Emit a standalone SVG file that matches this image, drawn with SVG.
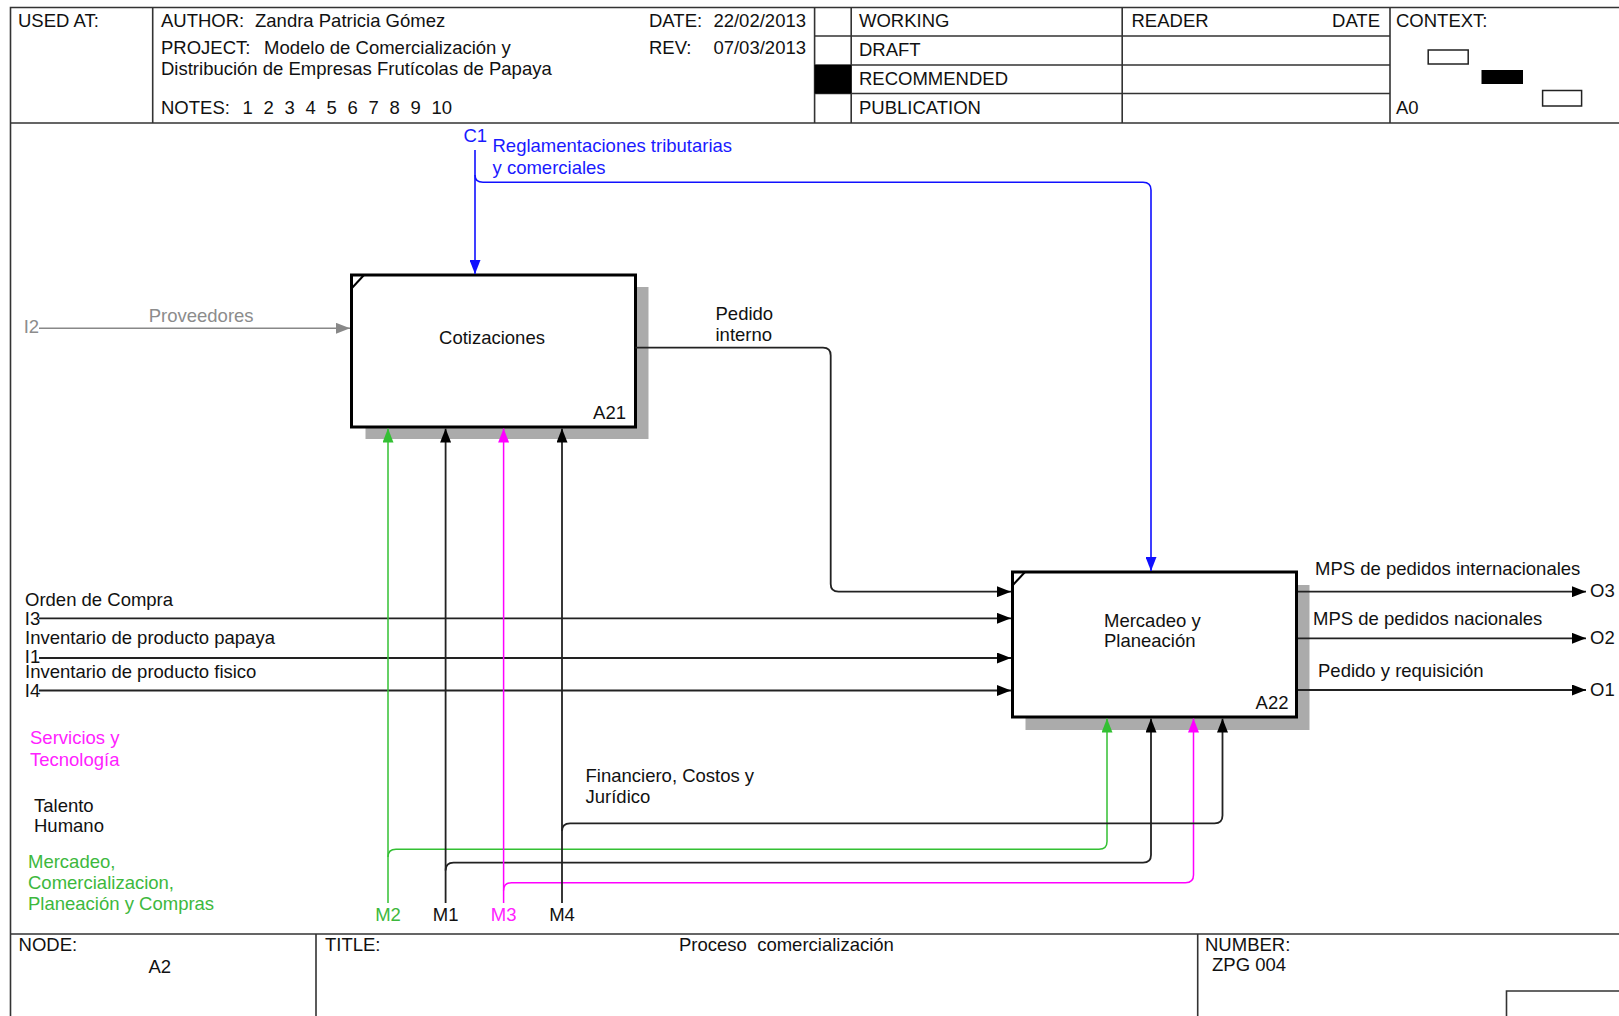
<svg xmlns="http://www.w3.org/2000/svg" width="1619" height="1016" viewBox="0 0 1619 1016">
<style>
text{font-family:"Liberation Sans",Arial,sans-serif;font-size:18.5px;fill:#111}
.frame{stroke:#333;stroke-width:1.6;fill:none}
.box{fill:#fff;stroke:#000;stroke-width:3}
.shadow{fill:#ababab}
.conn{fill:none;stroke:#222;stroke-width:1.8}
.blue{fill:none;stroke:#1010ff;stroke-width:1.6}
.green{fill:none;stroke:#33c033;stroke-width:1.5}
.mag{fill:none;stroke:#ff00ff;stroke-width:1.5}
.gray{fill:none;stroke:#888;stroke-width:1.6}
.tb{fill:#1a1aff}
.tg{fill:#3db83d}
.tm{fill:#ff22ff}
.tgr{fill:#8c8c8c}
.mid{text-anchor:middle}
.end{text-anchor:end}
.pre{white-space:pre}
</style>
<defs>
<marker id="ab" markerUnits="userSpaceOnUse" markerWidth="14" markerHeight="11" refX="14" refY="5.5" orient="auto"><path d="M0,0 L14,5.5 L0,11 z" fill="#000"/></marker>
<marker id="abl" markerUnits="userSpaceOnUse" markerWidth="14" markerHeight="11" refX="14" refY="5.5" orient="auto"><path d="M0,0 L14,5.5 L0,11 z" fill="#1010ff"/></marker>
<marker id="agr" markerUnits="userSpaceOnUse" markerWidth="14" markerHeight="11" refX="14" refY="5.5" orient="auto"><path d="M0,0 L14,5.5 L0,11 z" fill="#33c033"/></marker>
<marker id="am" markerUnits="userSpaceOnUse" markerWidth="14" markerHeight="11" refX="14" refY="5.5" orient="auto"><path d="M0,0 L14,5.5 L0,11 z" fill="#ff00ff"/></marker>
<marker id="agy" markerUnits="userSpaceOnUse" markerWidth="14" markerHeight="11" refX="14" refY="5.5" orient="auto"><path d="M0,0 L14,5.5 L0,11 z" fill="#888"/></marker>
</defs>
<rect width="1619" height="1016" fill="#fff"/>

<g id="frame">
<path class="frame" d="M10.5,1016 V7.5 H1619 M10.5,123 H1619 M10.5,934 H1619 M152.7,7.5 V123 M814.6,7.5 V123 M851.2,7.5 V123 M1122.2,7.5 V123 M1390,7.5 V123 M814.6,36 H1390 M814.6,65 H1390 M814.6,93.5 H1390 M316,934 V1016 M1197.7,934 V1016 M1506.5,1016 V991 H1619"/>
<rect x="814.6" y="65" width="36.6" height="28.5" fill="#000"/>
<rect x="1428.2" y="50" width="40" height="14" fill="#fff" stroke="#222" stroke-width="1.5"/>
<rect x="1481.5" y="70" width="41.5" height="14" fill="#000"/>
<rect x="1542.6" y="90.5" width="39" height="15.5" fill="#fff" stroke="#222" stroke-width="1.5"/>
<text x="18" y="27">USED AT:</text>
<text x="161" y="27">AUTHOR:</text>
<text x="255" y="27">Zandra Patricia Gómez</text>
<text x="161" y="54">PROJECT:</text>
<text x="264" y="54">Modelo de Comercialización y</text>
<text x="161" y="74.5">Distribución de Empresas Frutícolas de Papaya</text>
<text x="161" y="114">NOTES:</text>
<text y="114"><tspan x="242.5">1</tspan><tspan x="263.5">2</tspan><tspan x="284.5">3</tspan><tspan x="305.5">4</tspan><tspan x="326.5">5</tspan><tspan x="347.5">6</tspan><tspan x="368.5">7</tspan><tspan x="389.5">8</tspan><tspan x="410.5">9</tspan><tspan x="431.5">10</tspan></text>
<text x="649" y="27">DATE:</text>
<text x="806" y="27" class="end">22/02/2013</text>
<text x="649" y="54">REV:</text>
<text x="806" y="54" class="end">07/03/2013</text>
<text x="859" y="27">WORKING</text>
<text x="859" y="56">DRAFT</text>
<text x="859" y="85">RECOMMENDED</text>
<text x="859" y="114">PUBLICATION</text>
<text x="1131.5" y="27">READER</text>
<text x="1380" y="27" class="end">DATE</text>
<text x="1396" y="27">CONTEXT:</text>
<text x="1396" y="114">A0</text>
<text x="18.6" y="951">NODE:</text>
<text x="148.5" y="972.5">A2</text>
<text x="325" y="951">TITLE:</text>
<text x="679" y="951" class="pre">Proceso  comercialización</text>
<text x="1205" y="951">NUMBER:</text>
<text x="1212" y="970.5">ZPG 004</text>
</g>

<g id="node-A21">
<rect class="shadow" x="365.5" y="287" width="283" height="152"/>
<rect class="box" x="351.5" y="275" width="284" height="152"/>
<path d="M351.5,288.5 L364,275" stroke="#000" stroke-width="2" fill="none"/>
<text x="492" y="344" class="mid">Cotizaciones</text>
<text x="626" y="418.5" class="end">A21</text>
</g>

<g id="node-A22">
<rect class="shadow" x="1025.5" y="585" width="284" height="145"/>
<rect class="box" x="1012.5" y="572" width="284" height="145"/>
<path d="M1012.5,585.5 L1025,572" stroke="#000" stroke-width="2" fill="none"/>
<text x="1104" y="627">Mercadeo y</text>
<text x="1104" y="647">Planeación</text>
<text x="1288.5" y="709" class="end">A22</text>
</g>

<g id="connectors">
<path class="blue" d="M475,150 V274" marker-end="url(#abl)"/>
<path class="blue" d="M475,175 Q475,182.3 483,182.3 H1143 Q1151,182.3 1151,190 V571" marker-end="url(#abl)"/>
<path class="gray" d="M39,328.3 H350" marker-end="url(#agy)"/>
<path class="conn" d="M635.5,347.7 H823 Q830.7,347.7 830.7,355.5 V584 Q830.7,591.7 838.5,591.7 H1011" marker-end="url(#ab)"/>
<path class="conn" d="M39,618.3 H1011" marker-end="url(#ab)"/>
<path class="conn" d="M39,658 H1011" marker-end="url(#ab)"/>
<path class="conn" d="M39,690.5 H1011" marker-end="url(#ab)"/>
<path class="conn" d="M1298,591.7 H1586" marker-end="url(#ab)"/>
<path class="conn" d="M1298,638.3 H1586" marker-end="url(#ab)"/>
<path class="conn" d="M1298,690 H1586" marker-end="url(#ab)"/>
<path class="green" d="M388,903 V428.5" marker-end="url(#agr)"/>
<path class="green" d="M388,857 Q388,849.3 396,849.3 H1099 Q1107,849.3 1107,841.5 V718.5" marker-end="url(#agr)"/>
<path class="conn" d="M445.6,903 V428.5" marker-end="url(#ab)"/>
<path class="conn" d="M445.6,870.5 Q445.6,862.7 453.5,862.7 H1143 Q1151,862.7 1151,855 V718.5" marker-end="url(#ab)"/>
<path class="mag" d="M503.6,903 V428.5" marker-end="url(#am)"/>
<path class="mag" d="M503.6,890.5 Q503.6,882.7 511.5,882.7 H1185.5 Q1193.5,882.7 1193.5,875 V718.5" marker-end="url(#am)"/>
<path class="conn" d="M562,903 V428.5" marker-end="url(#ab)"/>
<path class="conn" d="M562,831 Q562,823.3 570,823.3 H1214.5 Q1222.5,823.3 1222.5,815.5 V718.5" marker-end="url(#ab)"/>
</g>

<g id="labels">
<text x="463.5" y="142" class="tb">C1</text>
<text x="492.5" y="152" class="tb">Reglamentaciones tributarias</text>
<text x="492.5" y="173.5" class="tb">y comerciales</text>
<text x="23.7" y="333" class="tgr">I2</text>
<text x="148.7" y="322" class="tgr">Proveedores</text>
<text x="715.5" y="319.5">Pedido</text>
<text x="715.5" y="341">interno</text>
<text x="25" y="606">Orden de Compra</text>
<text x="24.8" y="625">I3</text>
<text x="25" y="643.5">Inventario de producto papaya</text>
<text x="24.8" y="663">I1</text>
<text x="25" y="678">Inventario de producto fisico</text>
<text x="24.8" y="697">I4</text>
<text x="1315" y="574.5">MPS de pedidos internacionales</text>
<text x="1313" y="625">MPS de pedidos nacionales</text>
<text x="1318" y="676.5">Pedido y requisición</text>
<text x="1590" y="597">O3</text>
<text x="1590" y="643.5">O2</text>
<text x="1590" y="696">O1</text>
<text x="30" y="744" class="tm">Servicios y</text>
<text x="30" y="765.5" class="tm">Tecnología</text>
<text x="34" y="811.5">Talento</text>
<text x="34" y="832">Humano</text>
<text x="28" y="867.5" class="tg">Mercadeo,</text>
<text x="28" y="889" class="tg">Comercializacion,</text>
<text x="28" y="910" class="tg">Planeación y Compras</text>
<text x="585.5" y="782">Financiero, Costos y</text>
<text x="585.5" y="802.5">Jurídico</text>
<text x="388" y="921" class="mid tg">M2</text>
<text x="445.6" y="921" class="mid">M1</text>
<text x="503.6" y="921" class="mid tm">M3</text>
<text x="562" y="921" class="mid">M4</text>
</g>
</svg>
